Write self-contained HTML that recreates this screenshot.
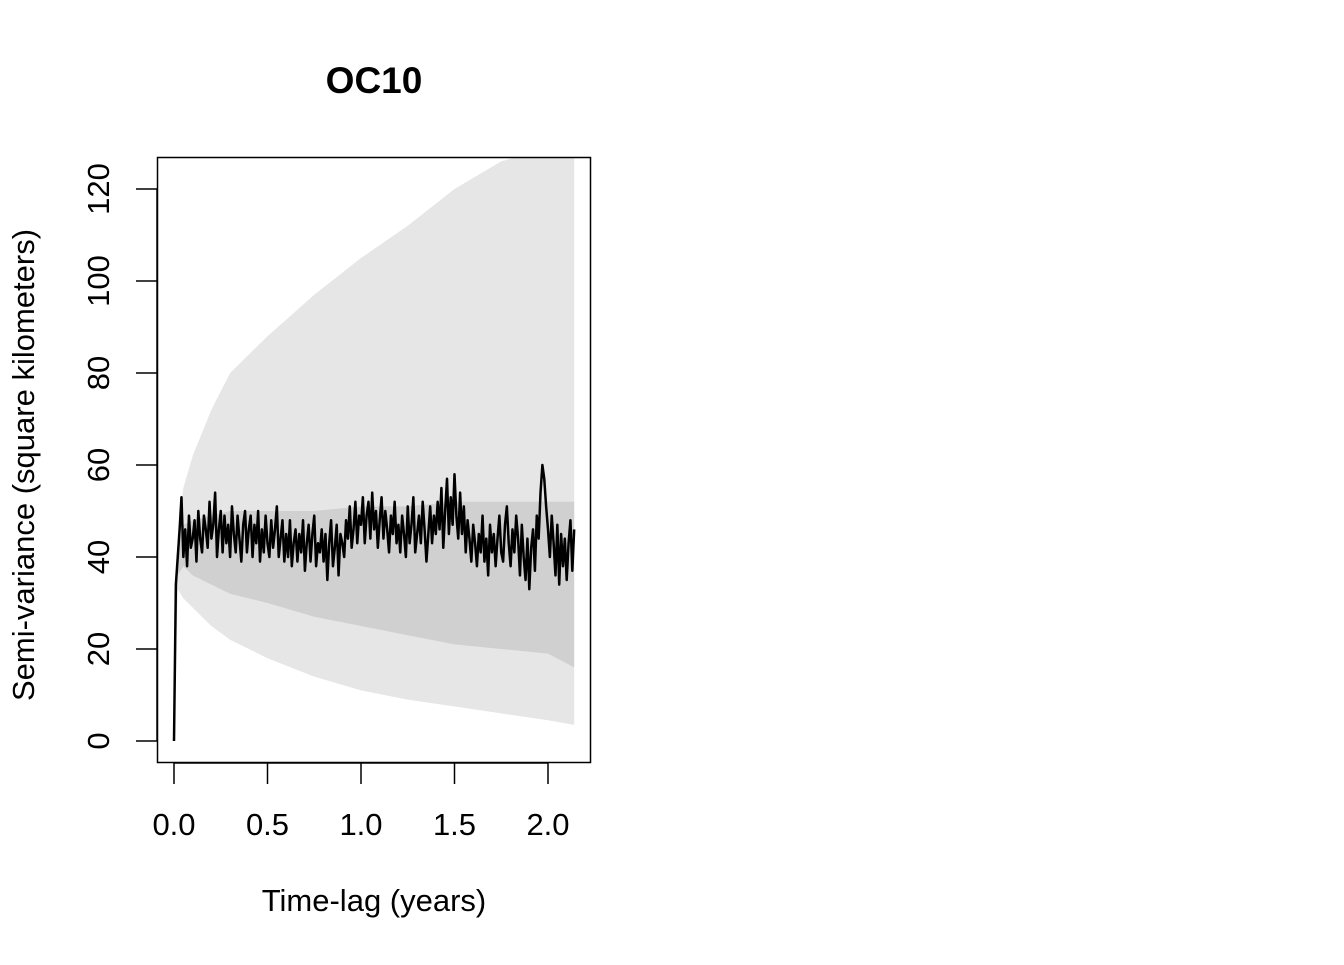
<!DOCTYPE html>
<html><head><meta charset="utf-8"><style>
html,body{margin:0;padding:0;background:#fff;}
svg text{font-family:"Liberation Sans",Arial,sans-serif;fill:#000;}
</style></head><body>
<svg id="chart" width="1344" height="960" xmlns="http://www.w3.org/2000/svg">
<text x="374" y="93" text-anchor="middle" font-size="37" font-weight="bold">OC10</text>
<g id="bands"></g>
<g id="line"></g>
<rect x="157.5" y="157.5" width="433" height="605" fill="none" stroke="#000" stroke-width="1.5"/>
<g id="axes"></g>
<text x="374" y="911" text-anchor="middle" font-size="31">Time-lag (years)</text>
<text transform="translate(34,465) rotate(-90)" text-anchor="middle" font-size="31">Semi-variance (square kilometers)</text>
</svg>
<script>
const bandTimes=[0,0.02,0.05,0.1,0.2,0.3,0.5,0.75,1.0,1.25,1.5,1.75,2.0,2.14];
const outerUpper=[0,45,55,62,72,80,88,97,105,112,120,126,129,129];
const outerLower=[0,33,31,29,25,22,18,14,11,9,7.5,6,4.5,3.5];
const innerUpper=[0,42,47,48,49,50,50,50,51,51,52,52,52,52];
const innerLower=[0,36,38,36,34,32,30,27,25,23,21,20,19,16];
const xTicks=[0,0.5,1.0,1.5,2.0];
const xTickLabels=["0.0","0.5","1.0","1.5","2.0"];
const yTicks=[0,20,40,60,80,100,120];
const yTickLabels=["0","20","40","60","80","100","120"];
const lineStep=0.01;
const lineValues=[0,34,40,46,53,40,46,38,49,42,44,48,39,50,44,41,49,46,42,52,
44,47,54,40,46,50,41,49,43,47,40,51,45,41,49,44,39,47,50,41,
46,49,40,47,43,50,39,46,41,49,43,40,48,42,46,51,40,44,48,39,
45,40,48,38,43,46,39,45,41,48,37,43,47,39,45,49,38,43,41,46,
39,45,35,43,48,38,42,47,36,45,43,40,48,44,51,42,46,52,43,49,
47,53,43,49,52,44,54,46,50,42,48,53,44,50,46,41,49,45,52,43,
47,41,49,45,40,51,43,47,53,41,45,49,43,52,46,39,45,51,43,49,
45,52,46,55,42,50,57,45,53,47,58,49,44,54,45,51,41,48,44,39,
47,43,38,45,41,49,39,44,36,47,41,45,38,44,49,41,39,47,51,43,
38,46,41,49,44,36,47,40,35,44,33,42,46,37,49,44,54,60,57,51,
46,40,49,43,36,47,34,45,38,44,35,43,48,37,46];
const NS="http://www.w3.org/2000/svg";
const X=v=>174+v*187, Y=v=>741-v*4.6;
function mk(t,a,p){const e=document.createElementNS(NS,t);for(const k in a)e.setAttribute(k,a[k]);p.appendChild(e);return e;}
const clip=mk('clipPath',{id:'pc'},document.getElementById('chart'));
mk('rect',{x:158,y:158,width:432,height:604},clip);
const bands=document.getElementById('bands');bands.setAttribute('clip-path','url(#pc)');
function band(up,lo,fill,name){
 let d=bandTimes.map((t,i)=>(i?'L':'M')+X(t)+','+Y(up[i])).join('');
 for(let i=bandTimes.length-1;i>=0;i--)d+='L'+X(bandTimes[i])+','+Y(lo[i]);
 const p=mk('path',{d:d+'Z',fill:fill},bands);
 
 
}
band(outerUpper,outerLower,'#e6e6e6','outer-band');
band(innerUpper,innerLower,'#d0d0d0','inner-band');
const lg=document.getElementById('line');
const lp=mk('polyline',{points:lineValues.map((v,i)=>X(i*lineStep)+','+Y(v)).join(' '),fill:'none',stroke:'#000','stroke-width':2.5,'stroke-linejoin':'round'},lg);


const ax=document.getElementById('axes');
mk('line',{x1:X(xTicks[0]),x2:X(xTicks[xTicks.length-1]),y1:763,y2:763,stroke:'#000','stroke-width':1.5},ax);
xTicks.forEach((t,i)=>{mk('line',{x1:X(t),x2:X(t),y1:763,y2:784,stroke:'#000','stroke-width':1.5},ax);
 const tx=mk('text',{x:X(t),y:835,'text-anchor':'middle','font-size':31},ax);tx.textContent=xTickLabels[i];
 
 });
mk('line',{x1:157,x2:157,y1:Y(yTicks[0]),y2:Y(yTicks[yTicks.length-1]),stroke:'#000','stroke-width':1.5},ax);
yTicks.forEach((t,i)=>{mk('line',{x1:136,x2:157,y1:Y(t),y2:Y(t),stroke:'#000','stroke-width':1.5},ax);
 const tx=mk('text',{transform:`translate(109,${Y(t)}) rotate(-90)`,'text-anchor':'middle','font-size':31},ax);tx.textContent=yTickLabels[i];
 
 });
</script>
</body></html>
